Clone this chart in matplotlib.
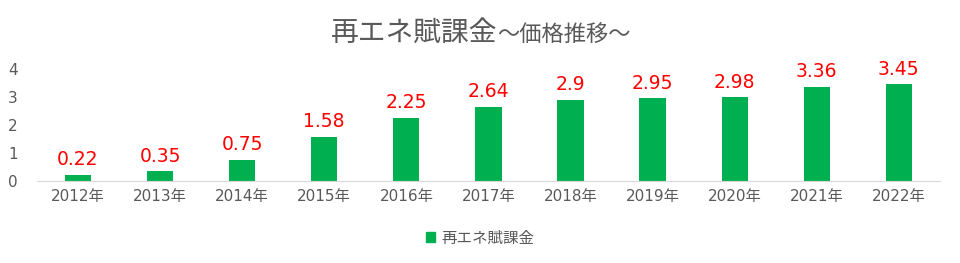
import matplotlib.pyplot as plt
from matplotlib.patches import Patch

plt.rcParams['font.family'] = ['DejaVu Sans', 'Noto Sans CJK JP']

years = ['2012年', '2013年', '2014年', '2015年', '2016年', '2017年',
         '2018年', '2019年', '2020年', '2021年', '2022年']
levy = [0.22, 0.35, 0.75, 1.58, 2.25, 2.64, 2.9, 2.95, 2.98, 3.36, 3.45]
labels = ['0.22', '0.35', '0.75', '1.58', '2.25', '2.64', '2.9', '2.95', '2.98', '3.36', '3.45']

fig = plt.figure(figsize=(9.6, 2.63), dpi=100)
ax = fig.add_axes([0.0385, 0.312, 0.9405, 0.426])

green = '#00B050'
x = range(len(years))
bars = ax.bar(x, levy, width=0.32, color=green)
for b, t in zip(bars, labels):
    ax.text(b.get_x() + b.get_width() / 2, b.get_height() + 0.2, t,
            ha='center', va='bottom', color='#FF0000', fontsize=13.5)

ax.set_xlim(-0.5, len(years) - 0.5)
ax.set_ylim(0, 4)
ax.set_yticks([0, 1, 2, 3, 4])
ax.set_xticks(list(x))
ax.set_xticklabels(years)
ax.tick_params(axis='both', length=0, colors='#595959', labelsize=11)
ax.tick_params(axis='x', pad=6)
ax.tick_params(axis='y', pad=14)
for s in ['top', 'right', 'left']:
    ax.spines[s].set_visible(False)
ax.spines['bottom'].set_color('#D9D9D9')

fig.text(0.518, 0.875, '再エネ賦課金', ha='right', va='center',
         fontsize=20, color='#595959')
fig.text(0.518, 0.868, '～価格推移～', ha='left', va='center',
         fontsize=16, color='#595959')

fig.legend(handles=[Patch(color=green, label='再エネ賦課金')],
           loc='center', bbox_to_anchor=(0.5, 0.095), frameon=False,
           fontsize=11.2, labelcolor='#595959', handlelength=0.6,
           handleheight=0.6, handletextpad=0.4)

plt.savefig('out.png', dpi=100)
